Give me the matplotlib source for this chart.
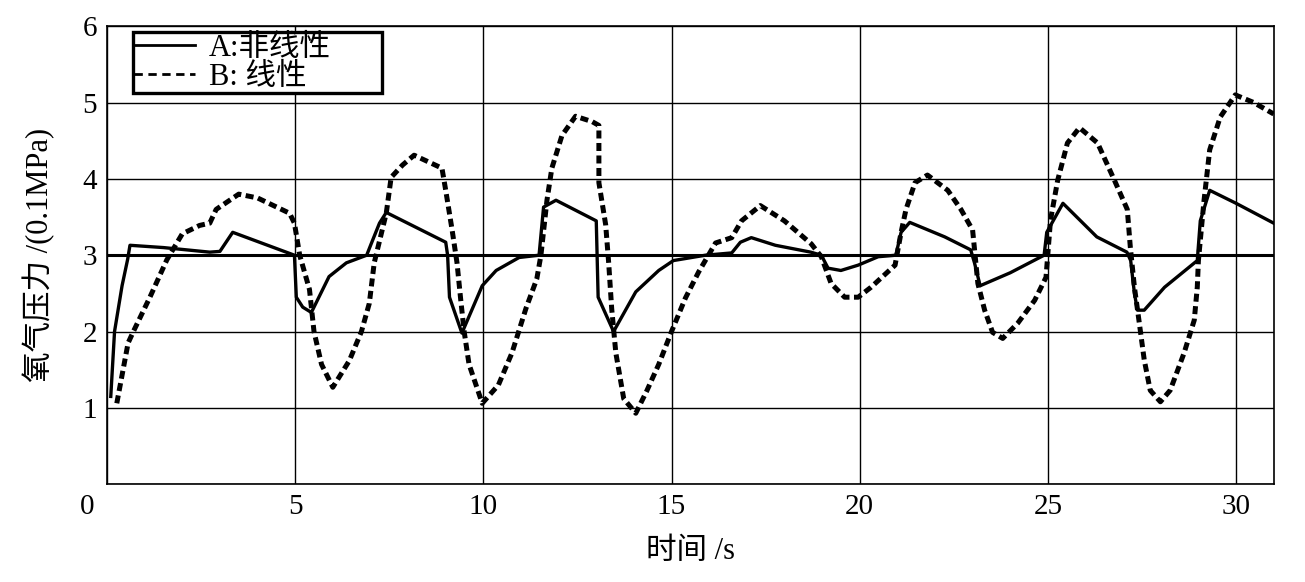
import matplotlib
matplotlib.use('Agg')
import matplotlib.pyplot as plt
import matplotlib.transforms as mtransforms
from matplotlib.lines import Line2D

plt.rcParams['font.family'] = ['Liberation Serif', 'Noto Sans CJK SC', 'DejaVu Sans']

# curve A: nonlinear control (solid)
t_a = [0.10, 0.20, 0.40, 0.55, 0.61, 1.5, 2.73, 3.0, 3.34, 4.98,
       5.03, 5.2, 5.43, 5.9, 6.36, 6.9, 7.02, 7.24, 7.42, 9.0,
       9.05, 9.1, 9.43, 9.97, 10.34, 10.95, 11.48, 11.6, 11.93, 13.0,
       13.05, 13.46, 14.05, 14.66, 15.05, 15.9, 16.6, 16.83, 17.12, 17.76,
       18.7, 18.98, 19.16, 19.5, 19.96, 20.49, 20.96, 21.1, 21.33, 22.26,
       22.95, 23.05, 23.2, 24.0, 24.9, 24.97, 25.4, 26.3, 27.1, 27.2,
       27.3, 27.38, 27.56, 28.1, 28.97, 29.05, 29.3, 30.0, 31.0]
p_a = [1.15, 2.0, 2.6, 2.95, 3.13, 3.1, 3.04, 3.05, 3.3, 3.0,
       2.45, 2.32, 2.25, 2.72, 2.9, 3.0, 3.15, 3.42, 3.56, 3.17,
       3.0, 2.45, 1.98, 2.6, 2.8, 2.97, 3.0, 3.63, 3.72, 3.45,
       2.45, 2.0, 2.52, 2.8, 2.93, 3.0, 3.03, 3.17, 3.23, 3.13,
       3.04, 3.0, 2.83, 2.8, 2.87, 2.98, 3.0, 3.3, 3.43, 3.24,
       3.07, 2.9, 2.6, 2.77, 3.0, 3.3, 3.68, 3.24, 3.04, 2.93,
       2.5, 2.28, 2.28, 2.58, 2.93, 3.45, 3.85, 3.68, 3.42]

# curve B: linear control (dashed)
t_b = [0.26, 0.56, 0.70, 1.14, 1.59, 2.0, 2.46, 2.73, 2.9, 3.5,
       4.0, 4.85, 4.98, 5.12, 5.38, 5.5, 5.7, 6.0, 6.44, 6.76,
       6.97, 7.1, 7.42, 7.55, 7.85, 8.16, 8.9, 9.0, 9.17, 9.3,
       9.4, 9.49, 9.62, 9.97, 10.4, 10.76, 11.13, 11.42, 11.53, 11.69,
       11.82, 12.09, 12.45, 12.89, 13.07, 13.07, 13.25, 13.33, 13.41, 13.52,
       13.73, 14.05, 14.34, 14.66, 15.0, 15.37, 15.72, 16.17, 16.6, 16.86,
       17.36, 18.0, 18.71, 18.98, 19.24, 19.6, 19.96, 20.3, 20.94, 21.1,
       21.23, 21.47, 21.8, 22.34, 22.69, 23.0, 23.14, 23.32, 23.53, 23.8,
       24.2, 24.65, 24.95, 25.07, 25.26, 25.52, 25.84, 26.32, 26.77, 27.11,
       27.19, 27.3, 27.43, 27.56, 27.72, 27.99, 28.25, 28.62, 28.89, 28.97,
       29.0, 29.15, 29.3, 29.58, 29.98, 30.47, 31.0]
p_b = [1.06, 1.85, 2.0, 2.45, 2.94, 3.28, 3.39, 3.42, 3.6, 3.8,
       3.75, 3.55, 3.42, 3.0, 2.55, 2.0, 1.57, 1.27, 1.62, 2.0,
       2.37, 2.9, 3.55, 4.02, 4.18, 4.31, 4.14, 3.85, 3.33, 2.9,
       2.41, 2.0, 1.57, 1.06, 1.3, 1.72, 2.3, 2.69, 3.0, 3.72,
       4.14, 4.57, 4.82, 4.75, 4.7, 3.95, 3.4, 2.9, 2.3, 1.72,
       1.12, 0.93, 1.22, 1.57, 2.0, 2.44, 2.78, 3.16, 3.23, 3.45,
       3.65, 3.45, 3.15, 2.98, 2.63, 2.45, 2.45, 2.58, 2.87, 3.3,
       3.6, 3.95, 4.05, 3.85, 3.6, 3.33, 2.63, 2.28, 1.99, 1.91,
       2.11, 2.41, 2.71, 3.46, 3.98, 4.47, 4.67, 4.47, 3.98, 3.6,
       3.11, 2.58, 2.11, 1.63, 1.23, 1.08, 1.23, 1.72, 2.15, 2.58,
       2.93, 3.72, 4.38, 4.81, 5.1, 5.0, 4.85]

x_ticks = [0, 5, 10, 15, 20, 25, 30]
y_ticks = [0, 1, 2, 3, 4, 5, 6]
y_ticklabels = ['', '1', '2', '3', '4', '5', '6']

fig = plt.figure(figsize=(13.05, 5.82), dpi=100)
ax = fig.add_axes([0.082, 0.168, 0.894, 0.787])

ax.plot(t_a, p_a, color='black', lw=2.4, solid_joinstyle='round')
ax.plot(t_b, p_b, color='black', lw=3.6, linestyle=(0, (1.6, 0.9)))

ax.set_xlim(0, 31)
ax.set_ylim(0, 6)
ax.set_xticks(x_ticks)
ax.set_yticks(y_ticks)
ax.set_yticklabels(y_ticklabels)
ax.grid(True, color='black', lw=1.0)
# the 3 bar line is drawn heavier in the original
ax.get_ygridlines()[3].set_linewidth(2.2)
ax.tick_params(length=0, labelsize=21, pad=7)
for s in ax.spines.values():
    s.set_linewidth(1.2)

# shared "0" sits left of the corner, as in the original
first = ax.get_xticklabels()[0]
first.set_transform(first.get_transform() +
                    mtransforms.ScaledTranslation(-0.2, 0, fig.dpi_scale_trans))

ax.set_xlabel('时间 /s', fontsize=22, labelpad=12)
ax.set_ylabel('氧气压力 /(0.1MPa)', fontsize=22, labelpad=20)

handles = [Line2D([], [], color='black', lw=2.0),
           Line2D([], [], color='black', lw=2.0, linestyle=(0, (3, 2)))]
leg = ax.legend(handles, ['A:非线性', 'B: 线性'], loc='upper left',
                bbox_to_anchor=(0.022, 0.85, 0.214, 0.137), mode='expand',
                fontsize=22, frameon=True, framealpha=1.0,
                fancybox=False, handlelength=2.0, handletextpad=0.45,
                borderpad=0.05, labelspacing=0.0, borderaxespad=0)
leg.get_frame().set_edgecolor('black')
leg.get_frame().set_linewidth(2.4)

fig.savefig('out.png', dpi=100)
